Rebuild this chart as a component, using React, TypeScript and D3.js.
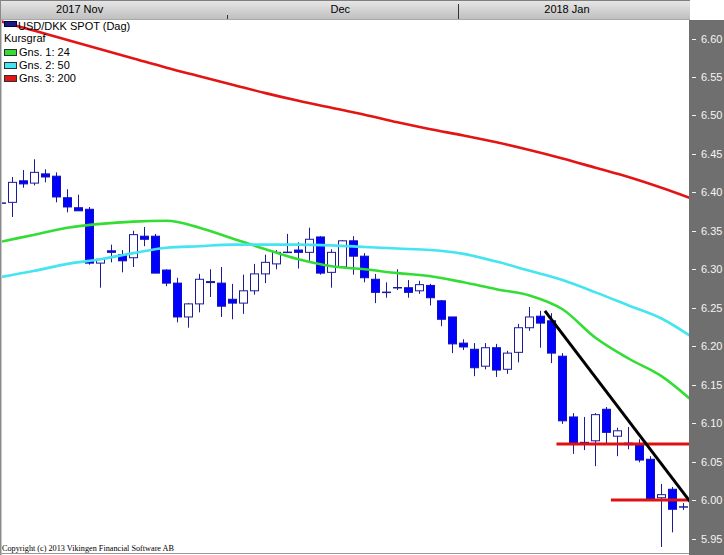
import React from "react";
import * as d3 from "d3";

// ---- data ----
const monthLabels = ["2017 Nov", "Dec", "2018 Jan"];
const monthLabelIdx = [7.1, 30.8, 51.4];
const monthTickIdx = [20.5];
const yearSepIdx = [41.5];

const priceTicks = [5.95, 6.0, 6.05, 6.1, 6.15, 6.2, 6.25, 6.3, 6.35, 6.4, 6.45, 6.5, 6.55, 6.6];

const opens = [6.386, 6.387, 6.415, 6.412, 6.424, 6.421, 6.393, 6.380, 6.378, 6.308, 6.324, 6.319, 6.315, 6.343, 6.343, 6.299, 6.282, 6.238, 6.255, 6.283, 6.282, 6.261, 6.256, 6.272, 6.294, 6.307, 6.322, 6.325, 6.322, 6.342, 6.296, 6.303, 6.337, 6.317, 6.287, 6.270, 6.276, 6.276, 6.272, 6.279, 6.259, 6.238, 6.204, 6.196, 6.174, 6.198, 6.170, 6.192, 6.224, 6.239, 6.233, 6.187, 6.108, 6.075, 6.077, 6.118, 6.083, 6.074, 6.072, 6.053, 6.003, 6.014, 5.991];
const highs = [6.388, 6.420, 6.429, 6.443, 6.430, 6.426, 6.404, 6.397, 6.381, 6.313, 6.332, 6.325, 6.350, 6.355, 6.346, 6.300, 6.289, 6.256, 6.294, 6.300, 6.303, 6.281, 6.293, 6.307, 6.319, 6.325, 6.346, 6.335, 6.354, 6.343, 6.326, 6.338, 6.343, 6.321, 6.294, 6.283, 6.300, 6.286, 6.285, 6.281, 6.260, 6.238, 6.209, 6.204, 6.204, 6.203, 6.194, 6.229, 6.251, 6.246, 6.243, 6.191, 6.113, 6.108, 6.113, 6.121, 6.094, 6.095, 6.079, 6.057, 6.021, 6.017, 5.996];
const lows = [6.384, 6.368, 6.406, 6.409, 6.413, 6.387, 6.374, 6.376, 6.306, 6.276, 6.309, 6.296, 6.303, 6.330, 6.295, 6.278, 6.231, 6.224, 6.244, 6.264, 6.238, 6.235, 6.242, 6.267, 6.282, 6.300, 6.321, 6.301, 6.311, 6.293, 6.276, 6.303, 6.293, 6.283, 6.256, 6.263, 6.273, 6.263, 6.268, 6.253, 6.226, 6.191, 6.195, 6.161, 6.170, 6.160, 6.164, 6.179, 6.220, 6.198, 6.178, 6.099, 6.060, 6.065, 6.044, 6.074, 6.057, 6.066, 6.049, 6.000, 5.939, 5.958, 5.987];
const closes = [6.386, 6.413, 6.411, 6.426, 6.420, 6.394, 6.381, 6.376, 6.308, 6.313, 6.322, 6.311, 6.345, 6.339, 6.295, 6.282, 6.238, 6.255, 6.287, 6.284, 6.252, 6.256, 6.272, 6.294, 6.309, 6.322, 6.322, 6.322, 6.339, 6.295, 6.322, 6.337, 6.317, 6.289, 6.270, 6.270, 6.276, 6.270, 6.280, 6.263, 6.235, 6.203, 6.199, 6.172, 6.198, 6.169, 6.191, 6.224, 6.238, 6.230, 6.191, 6.103, 6.074, 6.073, 6.111, 6.088, 6.090, 6.072, 6.052, 6.000, 6.007, 5.988, 5.991];

const maIdx = [0, 3, 6, 9, 12, 15, 18, 21, 24, 27, 30, 33, 36, 39, 42, 45, 48, 51, 54, 57, 60, 62.55];
const ma24 = [6.336, 6.345, 6.354, 6.359, 6.362, 6.363, 6.354, 6.340, 6.326, 6.313, 6.304, 6.300, 6.295, 6.291, 6.283, 6.274, 6.266, 6.248, 6.211, 6.184, 6.161, 6.132];
const ma50 = [6.290, 6.298, 6.307, 6.313, 6.321, 6.328, 6.330, 6.332, 6.332, 6.332, 6.331, 6.329, 6.327, 6.325, 6.320, 6.310, 6.298, 6.286, 6.270, 6.253, 6.236, 6.214];
const ma200 = [6.622, 6.610, 6.598, 6.586, 6.574, 6.562, 6.551, 6.540, 6.529, 6.519, 6.510, 6.501, 6.491, 6.482, 6.474, 6.465, 6.455, 6.444, 6.432, 6.420, 6.406, 6.393];

const trendIdx = [49.4, 62.6];
const trendPrice = [6.246, 5.998];
const levelPrices = [6.073, 6.0];
const levelStartIdx = [50.45, 55.4];

const seriesTitle = "USD/DKK SPOT (Dag)";
const groupTitle = "Kursgraf";
const legendLabels = ["Gns. 1: 24", "Gns. 2: 50", "Gns. 3: 200"];
const maColors = ["#33dd33", "#44e4f0", "#e31414"];

const copyright = "Copyright (c) 2013 Vikingen Financial Software AB";

export default function App() {
  const W = 724, H = 555;
  const plotL = 2, plotR = 689, plotT = 20, plotB = 553;
  const x = d3.scaleLinear().domain([0, 62]).range([1.5, 683.5]);
  const y = d3.scaleLinear().domain([5.95, 6.6]).range([538.5, 38.5]);
  const font = "'Liberation Sans', Arial, sans-serif";

  const line = d3
    .line<number>()
    .x((_, i) => x(maIdx[i]))
    .y((d) => y(d))
    .curve(d3.curveMonotoneX);

  const mas = [ma24, ma50, ma200];
  const blueFill = "#0000ff";
  const navy = "#1c1c98";

  return (
    <svg width={W} height={H} style={{ position: "absolute", left: 0, top: 0 }} fontFamily={font}>
      <defs>
        <linearGradient id="hdr" x1="0" y1="0" x2="0" y2="1">
          <stop offset="0" stopColor="#e8e8e8" />
          <stop offset="1" stopColor="#bdbdbd" />
        </linearGradient>
        <clipPath id="plotClip">
          <rect x={plotL} y={plotT} width={plotR - plotL} height={plotB - plotT} />
        </clipPath>
      </defs>
      <rect x={0} y={0} width={W} height={H} fill="#ffffff" />
      {/* right axis panel */}
      <rect x={plotR} y={plotT} width={W - plotR} height={H - plotT} fill="#6f6f6f" />
      {/* header */}
      <rect x={0} y={0} width={690} height={20} fill="url(#hdr)" />
      <line x1={0} y1={0.5} x2={690} y2={0.5} stroke="#808080" />
      <line x1={0} y1={19.5} x2={690} y2={19.5} stroke="#a8a8a8" />
      {monthLabels.map((m, i) => (
        <text key={m} x={x(monthLabelIdx[i])} y={13} fontSize={11} textAnchor="middle" fill="#000">
          {m}
        </text>
      ))}
      {monthTickIdx.map((t) => (
        <line key={"mt" + t} x1={Math.round(x(t)) + 0.5} x2={Math.round(x(t)) + 0.5} y1={15} y2={19} stroke="#333" />
      ))}
      {yearSepIdx.map((t) => (
        <line key={"ys" + t} x1={Math.round(x(t)) + 0.5} x2={Math.round(x(t)) + 0.5} y1={4} y2={19} stroke="#333" />
      ))}
      {/* borders */}
      <line x1={0.5} y1={0} x2={0.5} y2={H} stroke="#8a8a8a" />
      <line x1={1.5} y1={20} x2={1.5} y2={H} stroke="#c8c8c8" />
      <line x1={0} y1={553.5} x2={plotR} y2={553.5} stroke="#9a9a9a" />

      {/* y axis ticks */}
      {priceTicks.map((p) => (
        <g key={"yt" + p}>
          <line x1={692} x2={696} y1={Math.round(y(p)) + 0.5} y2={Math.round(y(p)) + 0.5} stroke="#f4f4f4" />
          <text x={701} y={y(p) + 4} fontSize={11} fill="#f4f4f4">
            {d3.format(".2f")(p)}
          </text>
        </g>
      ))}

      <g clipPath="url(#plotClip)">
        {/* candles */}
        {opens.map((o, i) => {
          const c = closes[i];
          const cx = x(i);
          const up = c > o;
          const top = y(Math.max(o, c));
          const bot = y(Math.min(o, c));
          return (
            <g key={"c" + i}>
              <line x1={cx} x2={cx} y1={y(highs[i])} y2={y(lows[i])} stroke={navy} strokeWidth={1} />
              {o === c ? (
                <line x1={cx - 4.5} x2={cx + 4.5} y1={top} y2={top} stroke={navy} strokeWidth={1.5} />
              ) : (
                <rect
                  x={cx - 4}
                  y={top}
                  width={8}
                  height={Math.max(1, bot - top)}
                  fill={up ? "#ffffff" : blueFill}
                  stroke={up ? navy : "#1010c0"}
                  strokeWidth={1}
                />
              )}
            </g>
          );
        })}
        {/* moving averages */}
        {mas.map((m, k) => (
          <path key={"ma" + k} d={line(m) || ""} fill="none" stroke={maColors[k]} strokeWidth={2.6} />
        ))}
        {/* annotations */}
        {levelPrices.map((p, k) => (
          <line
            key={"lv" + k}
            x1={x(levelStartIdx[k])}
            x2={plotR}
            y1={y(p)}
            y2={y(p)}
            stroke="#e01010"
            strokeWidth={3}
          />
        ))}
        <line
          x1={x(trendIdx[0])}
          y1={y(trendPrice[0])}
          x2={x(trendIdx[1])}
          y2={y(trendPrice[1])}
          stroke="#000"
          strokeWidth={3}
        />
      </g>

      {/* legend */}
      <rect x={4.5} y={21.5} width={12} height={5} fill="#1a1a80" stroke="#000040" />
      <text x={18} y={30} fontSize={11} fill="#000">{seriesTitle}</text>
      <text x={4} y={42} fontSize={11} fill="#000">{groupTitle}</text>
      {legendLabels.map((l, k) => (
        <g key={l}>
          <rect x={4.5} y={49.5 + k * 13} width={12} height={6} fill={maColors[k]} stroke="#303030" />
          <text x={19} y={56 + k * 13} fontSize={11} fill="#000">{l}</text>
        </g>
      ))}

      <text x={2} y={551} fontSize={8.5} fontFamily="'Liberation Serif', 'Times New Roman', serif" fill="#000" textLength={172} lengthAdjust="spacingAndGlyphs">
        {copyright}
      </text>
    </svg>
  );
}
